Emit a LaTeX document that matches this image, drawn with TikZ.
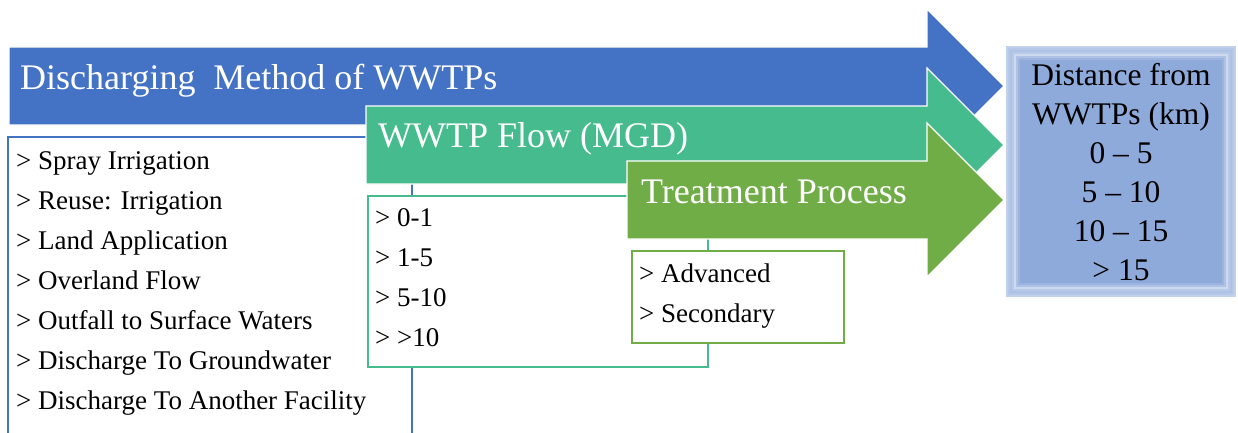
\documentclass[tikz,border=0pt]{standalone}
\usepackage{fontspec}
\setmainfont{Liberation Serif}
\usetikzlibrary{positioning}
\definecolor{mBlue}{HTML}{4472C4}
\definecolor{mTeal}{HTML}{45BB8E}
\definecolor{mGreen}{HTML}{70AD47}
\definecolor{mSky}{HTML}{8EAADB}

\begin{document}
\begin{tikzpicture}[x=1pt, y=-1pt,
    bar/.style={draw=white, line width=1.2pt},
    listbox/.style={draw, fill=white, line width=1.3pt},
    head/.style={anchor=base west, inner sep=0pt, text=white, font=\fontsize{36}{43}\selectfont},
    item/.style={anchor=base west, inner sep=0pt, font=\fontsize{27}{32}\selectfont},
    dist/.style={anchor=base, inner sep=0pt, font=\fontsize{31.5}{37}\selectfont}
]
    \useasboundingbox (0,0) rectangle (1238,432);
    \clip (0,0) rectangle (1238,432);

    % discharging method
    \draw[listbox, draw=mBlue] (8,137) rectangle (412,460);
    \foreach \t [count=\i] in {Spray Irrigation, Reuse: Irrigation, Land Application, Overland Flow,
        Outfall to Surface Waters, Discharge To Groundwater, Discharge To Another Facility}
        \node[item] (method\i) at (16,129+40*\i) {> \t};
    \fill[bar, fill=mBlue] (9,47) -- (927,47) -- (927,9) -- (1004,86) -- (927,163) -- (927,125) -- (9,125) -- cycle;
    \node[head] (method) at (20,89) {Discharging \ Method of WWTPs};

    % flow
    \draw[listbox, draw=mTeal] (368,196) rectangle (708,367);
    \foreach \t [count=\i] in {0-1, 1-5, 5-10, >10}
        \node[item] (flow\i) at (375,186+40*\i) {> \t};
    \fill[bar, fill=mTeal] (366,106) -- (927,106) -- (927,68) -- (1004,145) -- (927,222) -- (927,184) -- (366,184) -- cycle;
    \node[head] (flow) at (378,147) {WWTP Flow (MGD)};

    % treatment
    \draw[listbox, draw=mGreen] (632,251) rectangle (844,343);
    \node[item] (treat1) at (639,282) {> Advanced};
    \node[item] (treat2) at (639,322) {> Secondary};
    \fill[bar, fill=mGreen] (627,161) -- (927,161) -- (927,123) -- (1004,200) -- (927,277) -- (927,239) -- (627,239) -- cycle;
    \node[head] (treat) at (641,203) {Treatment Process};

    % distance, soft glowing frame
    \foreach \d/\c in {0/55, 2/65, 4/72, 6/62, 8/45, 10/72, 12/88, 14/100}
        \fill[mSky!\c!white] (1006+\d,46+\d) rectangle (1236-\d,297-\d);
    \foreach \t [count=\i] in {Distance from, WWTPs (km), 0 -- 5, 5 -- 10, 10 -- 15, > 15}
        \node[dist] (dist\i) at (1121,46+39*\i) {\t};
\end{tikzpicture}
\end{document}
